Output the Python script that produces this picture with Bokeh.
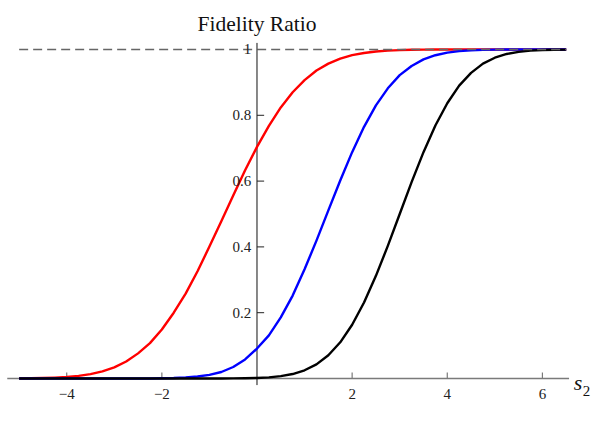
from bokeh.plotting import figure
from bokeh.models import Range1d
from bokeh.core.properties import value
from bokeh.embed import file_html
from bokeh.resources import INLINE

# ---- data ----
s2 = [-5.0, -4.75, -4.5, -4.25, -4.0, -3.75, -3.5, -3.25, -3.0, -2.75, -2.5, -2.25,
      -2.0, -1.75, -1.5, -1.25, -1.0, -0.75, -0.5, -0.25, 0.0, 0.25, 0.5, 0.75,
      1.0, 1.25, 1.5, 1.75, 2.0, 2.25, 2.5, 2.75, 3.0, 3.25, 3.5, 3.75,
      4.0, 4.25, 4.5, 4.75, 5.0, 5.25, 5.5, 5.75, 6.0, 6.25, 6.5]

red_ratio = [0.0003, 0.0007, 0.0013, 0.0025, 0.0045, 0.0078, 0.0132, 0.0217, 0.0336, 0.0516, 0.0764, 0.1075,
             0.149, 0.200, 0.258, 0.326, 0.401, 0.478, 0.556, 0.633, 0.704, 0.768, 0.824, 0.870,
             0.907, 0.936, 0.957, 0.972, 0.983, 0.9895, 0.9939, 0.9965, 0.9981, 0.999, 0.9995, 0.9998,
             0.9999, 1.0, 1.0, 1.0, 1.0, 1.0, 1.0, 1.0, 1.0, 1.0, 1.0]

blue_ratio = [0.0, 0.0, 0.0, 0.0, 0.0, 0.0, 0.0, 0.0, 0.0, 0.0, 0.0001, 0.0002,
              0.0007, 0.0014, 0.003, 0.0059, 0.011, 0.0197, 0.035, 0.058, 0.091, 0.131, 0.186, 0.252,
              0.332, 0.419, 0.511, 0.602, 0.688, 0.765, 0.830, 0.882, 0.922, 0.950, 0.970, 0.9826,
              0.9904, 0.9949, 0.9975, 0.9988, 0.9995, 0.9998, 1.0, 1.0, 1.0, 1.0, 1.0]

black_ratio = [0.0, 0.0, 0.0, 0.0, 0.0, 0.0, 0.0, 0.0, 0.0, 0.0, 0.0, 0.0,
               0.0, 0.0, 0.0, 0.0, 0.0001, 0.0002, 0.0004, 0.0008, 0.0016, 0.0035, 0.0071, 0.0136,
               0.025, 0.0428, 0.0708, 0.110, 0.1635, 0.231, 0.312, 0.403, 0.5, 0.597, 0.688, 0.769,
               0.8365, 0.890, 0.929, 0.957, 0.975, 0.9864, 0.9929, 0.9965, 0.9984, 0.9993, 0.9997]

x_ticks = [-4, -2, 2, 4, 6]
x_tick_labels = ["\u22124", "\u22122", "2", "4", "6"]
y_ticks = [0.2, 0.4, 0.6, 0.8, 1.0]
y_tick_labels = ["0.2", "0.4", "0.6", "0.8", "1"]
reference_level = 1.0

title_text = "Fidelity Ratio"
xlabel_main = "s"
xlabel_sub = "2"

# ---- layout constants ----
X0, X1 = -5.392, 7.0528
Y0, Y1 = -0.0851, 1.1489
XAXIS_EXT = (-5.25, 6.56)
YAXIS_EXT = (-0.02, 1.02)
XTICK_LEN = 0.0182     # in y data units (~6 px)
YTICK_LEN = 0.15       # in x data units (~7 px)
FONT = value("Liberation Serif")

p = figure(width=592, height=406, output_backend="svg", toolbar_location=None,
           x_range=Range1d(X0, X1), y_range=Range1d(Y0, Y1),
           x_axis_location=None, y_axis_location=None, min_border=0,
           outline_line_color=None, background_fill_color="white",
           border_fill_color="white")
p.grid.grid_line_color = None

# axes crossing at the origin
p.segment(x0=[XAXIS_EXT[0]], y0=[0], x1=[XAXIS_EXT[1]], y1=[0],
          line_color="#7a7a7a", line_width=1.4)
p.segment(x0=[0], y0=[YAXIS_EXT[0]], x1=[0], y1=[YAXIS_EXT[1]],
          line_color="#111111", line_width=1.0)
p.segment(x0=x_ticks, y0=[0] * len(x_ticks), x1=x_ticks, y1=[XTICK_LEN] * len(x_ticks),
          line_color="#7a7a7a", line_width=1.2)
p.segment(x0=[0] * len(y_ticks), y0=y_ticks, x1=[YTICK_LEN] * len(y_ticks), y1=y_ticks,
          line_color="#222222", line_width=1.0)

# curves
p.line(s2, red_ratio, line_color="#ff0000", line_width=2.4, line_join="round")
p.line(s2, blue_ratio, line_color="#0000ff", line_width=2.4, line_join="round")
p.line(s2, black_ratio, line_color="#000000", line_width=2.4, line_join="round")

# dashed reference line at 1
p.line([s2[0], s2[-1]], [reference_level, reference_level], line_color="#666666",
       line_width=1.3, line_dash="9 5")

# tick labels
p.text(x=x_ticks, y=[-0.0486] * len(x_ticks), text=x_tick_labels, text_font=FONT,
       text_font_size="15px", text_align="center", text_baseline="alphabetic",
       text_color="#222222")
p.text(x=[-0.12] * len(y_ticks), y=y_ticks, text=y_tick_labels, text_font=FONT,
       text_font_size="15px", text_align="right", text_baseline="middle",
       text_color="#222222")

# title and axis label
p.text(x=[0], y=[1.076], text=[title_text], text_font=FONT, text_font_size="21.5px",
       text_align="center", text_baseline="alphabetic", text_color="#111111")
p.text(x=[6.66], y=[-0.0131], text=[xlabel_main], text_font=FONT, text_font_size="22px",
       text_font_style="italic", text_align="left", text_baseline="alphabetic",
       text_color="#111111")
p.text(x=[6.85], y=[-0.0365], text=[xlabel_sub], text_font=FONT, text_font_size="15px",
       text_align="left", text_baseline="alphabetic", text_color="#111111")

open("out.html", "w").write(file_html(p, INLINE))
